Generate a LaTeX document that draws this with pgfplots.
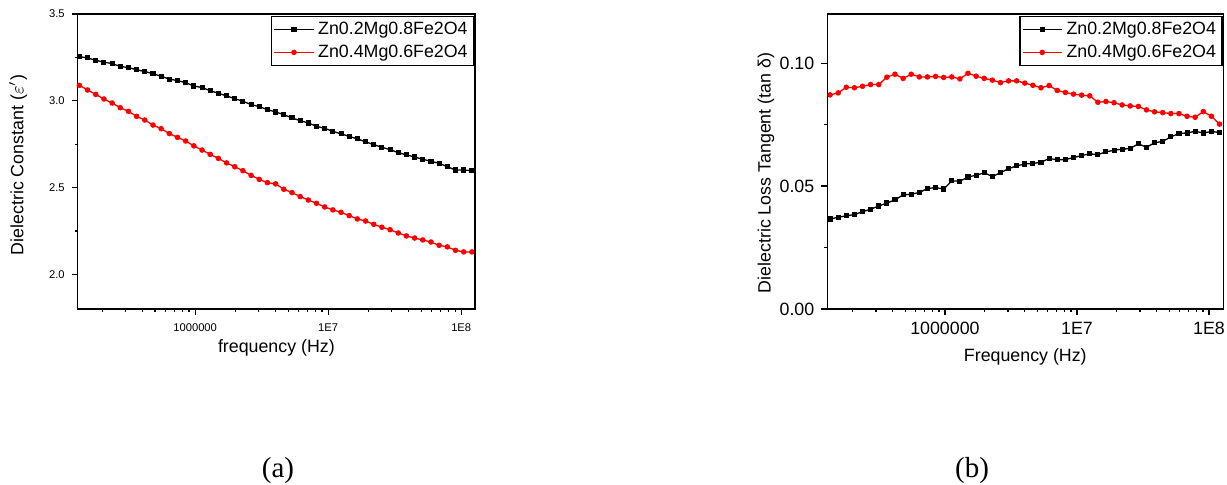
\documentclass[border=0pt]{standalone}
\usepackage{fontspec}
\setmainfont{Liberation Sans}
\newfontfamily\capfont{Liberation Serif}
\usepackage{pgfplots}
\usepackage{pgfplotstable}
\pgfplotsset{compat=1.18}

\pgfplotstableread{
f        epsA   epsB   tanA    tanB
1.349e5  3.254  3.089  0.0366  0.0871
1.554e5  3.247  3.062  0.0373  0.0879
1.790e5  3.233  3.037  0.0379  0.0902
2.063e5  3.223  3.010  0.0384  0.0900
2.376e5  3.214  2.987  0.0396  0.0906
2.737e5  3.198  2.960  0.0406  0.0913
3.154e5  3.191  2.939  0.0419  0.0913
3.633e5  3.179  2.910  0.0431  0.0943
4.184e5  3.168  2.889  0.0444  0.0955
4.822e5  3.156  2.860  0.0464  0.0938
5.555e5  3.141  2.839  0.0467  0.0955
6.400e5  3.125  2.811  0.0474  0.0944
7.372e5  3.116  2.789  0.0490  0.0944
8.492e5  3.104  2.768  0.0494  0.0946
9.781e5  3.085  2.740  0.0488  0.0942
1.127e6  3.076  2.716  0.0521  0.0944
1.298e6  3.058  2.691  0.0520  0.0936
1.495e6  3.043  2.668  0.0537  0.0959
1.723e6  3.028  2.642  0.0544  0.0947
1.985e6  3.012  2.620  0.0554  0.0938
2.287e6  2.997  2.597  0.0539  0.0931
2.634e6  2.978  2.570  0.0554  0.0921
3.034e6  2.966  2.547  0.0571  0.0928
3.496e6  2.949  2.528  0.0582  0.0928
4.027e6  2.935  2.521  0.0590  0.0919
4.640e6  2.920  2.490  0.0592  0.0910
5.346e6  2.901  2.471  0.0597  0.0900
6.158e6  2.885  2.448  0.0612  0.0909
7.095e6  2.872  2.428  0.0607  0.0889
8.172e6  2.853  2.409  0.0608  0.0881
9.414e6  2.841  2.388  0.0616  0.0874
1.085e7  2.824  2.371  0.0624  0.0870
1.250e7  2.809  2.357  0.0631  0.0867
1.440e7  2.795  2.338  0.0628  0.0841
1.658e7  2.780  2.319  0.0639  0.0844
1.911e7  2.764  2.307  0.0646  0.0839
2.201e7  2.747  2.288  0.0650  0.0830
2.535e7  2.732  2.271  0.0653  0.0826
2.921e7  2.718  2.257  0.0672  0.0824
3.365e7  2.701  2.238  0.0658  0.0810
3.876e7  2.688  2.221  0.0676  0.0802
4.466e7  2.676  2.209  0.0682  0.0799
5.144e7  2.663  2.198  0.0700  0.0795
5.926e7  2.651  2.186  0.0714  0.0795
6.828e7  2.640  2.167  0.0716  0.0784
7.866e7  2.620  2.158  0.0723  0.0780
9.062e7  2.601  2.138  0.0716  0.0803
1.044e8  2.601  2.129  0.0722  0.0784
1.203e8  2.597  2.129  0.0718  0.0752
}\datatable

\tikzset{
  blk/.style={black, line width=0.65pt, mark=square*, mark size=0.95pt, mark options={solid}},
  rd/.style={red, line width=0.65pt, mark=*, mark size=1.05pt, mark options={solid}},
}

\begin{document}
\begin{tikzpicture}
\useasboundingbox (0,0) rectangle (613.5pt,-242.5pt);

\begin{axis}[
  xmode=log,
  scale only axis,
  height=147.5pt,
  width=198.65pt,
  at={(38.85pt,-154.5pt)}, anchor=south west,
  axis line style={line width=0.75pt},
  tick align=outside,
  tick pos=left,
  major tick length=3pt,
  minor tick length=1.6pt,
  tick style={black, line width=0.6pt},
  xtick={1e6,1e7,1e8},
  xticklabels={1000000,1E7,1E8},
  minor xtick={2e5,3e5,4e5,5e5,6e5,7e5,8e5,9e5,2e6,3e6,4e6,5e6,6e6,7e6,8e6,9e6,2e7,3e7,4e7,5e7,6e7,7e7,8e7,9e7},
  xmin=1.31e5, xmax=1.27e8,
  ymin=1.8, ymax=3.5,
  ytick={2.0,2.5,3.0,3.5},
  minor ytick={2.25,2.75,3.25},
  yticklabel style={/pgf/number format/.cd, fixed, fixed zerofill, precision=1, assume math mode=true},
  ticklabel style={font=\fontsize{5.6}{6.5}\selectfont},
  xticklabel style={yshift=-0.8pt},
  label style={font=\fontsize{8.9}{10.7}\selectfont},
  xlabel={frequency (Hz)},
  ylabel={Dielectric Constant ($\varepsilon'$)},
  xlabel style={at={(axis description cs:0.5,-0.132)}, anchor=center},
  ylabel style={at={(axis description cs:-0.150,0.488)}, anchor=center},
  legend style={at={(0.998,0.993)}, anchor=north east,
    draw=black, line width=0.6pt, fill=white,
    font=\fontsize{8.9}{10.5}\selectfont,
    inner xsep=1pt, inner ysep=0.5pt, row sep=-0.2pt},
  legend cell align=left,
  legend image code/.code={\draw[mark repeat=2,mark phase=2] plot coordinates {(0pt,0pt)(9.8pt,0pt)(19.6pt,0pt)};},
]
\addplot[blk] table[x=f, y=epsA] {\datatable};
\addlegendentry{Zn0.2Mg0.8Fe2O4}
\addplot[rd] table[x=f, y=epsB] {\datatable};
\addlegendentry{Zn0.4Mg0.6Fe2O4}
\end{axis}

\begin{axis}[
  xmode=log,
  scale only axis,
  height=147.5pt,
  width=198pt,
  at={(413.65pt,-154.5pt)}, anchor=south west,
  axis line style={line width=0.75pt},
  tick align=outside,
  tick pos=left,
  major tick length=3pt,
  minor tick length=1.6pt,
  tick style={black, line width=0.6pt},
  xtick={1e6,1e7,1e8},
  xticklabels={1000000,1E7,1E8},
  minor xtick={2e5,3e5,4e5,5e5,6e5,7e5,8e5,9e5,2e6,3e6,4e6,5e6,6e6,7e6,8e6,9e6,2e7,3e7,4e7,5e7,6e7,7e7,8e7,9e7},
  xmin=1.285e5, xmax=1.285e8,
  ymin=0, ymax=0.12,
  ytick={0,0.05,0.10},
  minor ytick={0.025,0.075},
  yticklabel style={/pgf/number format/.cd, fixed, fixed zerofill, precision=2, assume math mode=true},
  ticklabel style={font=\fontsize{8.9}{10.5}\selectfont},
  label style={font=\fontsize{8.9}{10.7}\selectfont},
  xlabel={Frequency (Hz)},
  ylabel={Dielectric Loss Tangent (tan δ)},
  xlabel style={at={(axis description cs:0.5,-0.163)}, anchor=center},
  ylabel style={at={(axis description cs:-0.155,0.461)}, anchor=center},
  legend style={at={(0.998,0.993)}, anchor=north east,
    draw=black, line width=0.6pt, fill=white,
    font=\fontsize{8.9}{10.5}\selectfont,
    inner xsep=1pt, inner ysep=0.5pt, row sep=-0.2pt},
  legend cell align=left,
  legend image code/.code={\draw[mark repeat=2,mark phase=2] plot coordinates {(0pt,0pt)(9.8pt,0pt)(19.6pt,0pt)};},
]
\addplot[blk] table[x=f, y=tanA] {\datatable};
\addlegendentry{Zn0.2Mg0.8Fe2O4}
\addplot[rd] table[x=f, y=tanB] {\datatable};
\addlegendentry{Zn0.4Mg0.6Fe2O4}
\end{axis}

\node[font=\capfont\fontsize{14.5}{16}\selectfont] at (139pt,-235.5pt) {(a)};
\node[font=\capfont\fontsize{14.5}{16}\selectfont] at (486pt,-235.5pt) {(b)};
\end{tikzpicture}
\end{document}
